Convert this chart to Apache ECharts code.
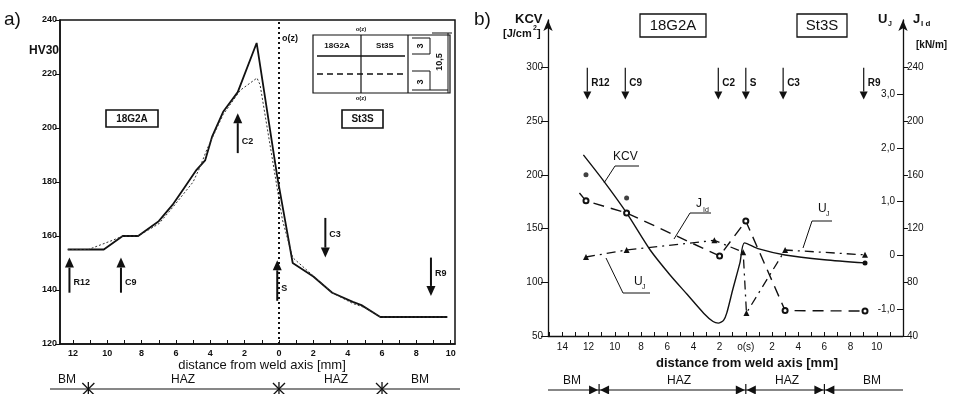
<!DOCTYPE html>
<html>
<head>
<meta charset="utf-8">
<script src="https://cdn.jsdelivr.net/npm/echarts@6/dist/echarts.min.js"></script>
<style>
html,body{margin:0;padding:0;background:#fff}
#chart{width:958px;height:394px}
</style>
</head>
<body>
<div id="chart"></div>
<script>
// ---- panel a) hardness HV30, distance from weld axis (minus = 18G2A side)
var hvSolid = [[-12.3,155],[-10.2,155],[-9.1,160],[-8.2,160],[-7.0,165.5],[-6.2,171.5],[-5.5,178],[-4.8,184.5],[-4.3,188],[-3.9,196.7],[-3.25,206],[-2.4,213.3],[-1.3,231.5],[-0.1,182],[0.8,150],[2.0,145],[3.1,139],[4.3,135.6],[4.8,134.4],[5.9,130],[9.8,130]];
var hvDotted = [[-12.3,155],[-11.1,155],[-9.65,158.5],[-9.1,160],[-8.2,160],[-7.0,164.5],[-6.2,170.5],[-5.0,180],[-4.6,185.5],[-4.2,192],[-3.25,205],[-2.25,214],[-1.28,218.5],[-1.1,216],[0.2,166],[0.8,152],[3.1,139],[4.3,135],[5.0,133.5],[5.9,130],[9.8,130]];
// specimen arrows: x, base, tip
var specA = [[-12.2,139,152],[-9.2,139,152],[-0.1,136,151],[-2.4,190.7,205.5],[2.7,166.7,152],[8.85,152,137.8]];
var specAnames = ['R12','C9','S','C2','C3','R9'];
var hvTicks = [120,140,160,180,200,220,240];
var distTicksA = [-12,-10,-8,-6,-4,-2,0,2,4,6,8,10];
var hazBoundsA = [-11.1,0,6];

// ---- panel b) KCV, J_Id, U_J
var kcvLine = [[-12.4,218.5],[-10.9,195],[-9.1,164.5],[-7.3,130],[-5.8,107],[-4.5,89],[-3.2,71],[-2.5,63.5],[-2.1,62],[-1.7,64.5],[-1.45,71.5],[-1.0,93],[-0.45,118],[-0.1,136.6],[1.0,131],[3.0,125.4],[6.0,121],[9.1,118]];
var kcvDots = [[-12.2,200],[-9.1,178.5]];
var jIdLine = [[-12.7,146.4],[-12.2,140.6],[-9.1,131.6],[-2.0,99.6],[0,125.6],[3.0,58.9],[9.1,58.6]];
var uJLine = [[-12.2,-0.03],[-9.1,0.1],[-2.4,0.28],[-0.2,0.06],[0.05,-1.07],[3.0,0.1],[9.1,0.01]];
var specB = [[-12.1,299.5,270],[-9.2,299.5,270],[-2.1,299.5,270],[0,299.5,270],[2.85,299.5,270],[9.0,299.5,270]];
var specBnames = ['R12','C9','C2','S','C3','R9'];
var kcvTicks = [50,100,150,200,250,300];
var jIdTicks = [40,80,120,160,200,240];
var uJTicks = [-1,0,1,2,3];
var distTicksB = [-14,-12,-10,-8,-6,-4,-2,0,2,4,6,8,10];
var hazBoundsB = [-11.2,0,6];

var INK = '#111';
var FONT = 'Liberation Sans, Arial, sans-serif';

function range(a, b) { var r = []; for (var i = a; i <= b; i++) r.push(i); return r; }

function arrowRenderer(names, opt) {
  return function (params, api) {
    var x = api.value(0);
    var p1 = api.coord([x, api.value(1)]);
    var p2 = api.coord([x, api.value(2)]);
    var dir = p2[1] > p1[1] ? 1 : -1;
    var hy = p2[1] - dir * opt.head;
    var ly = p1[1] + (p2[1] - p1[1]) * (dir > 0 ? opt.downFrac : opt.upFrac);
    return {
      type: 'group',
      children: [
        { type: 'line', shape: { x1: p1[0], y1: p1[1], x2: p2[0], y2: hy }, style: { stroke: INK, lineWidth: opt.width } },
        { type: 'polygon', shape: { points: [[p2[0] - opt.half, hy], [p2[0] + opt.half, hy], [p2[0], p2[1]]] }, style: { fill: INK } },
        { type: 'text', style: { text: names[params.dataIndex], x: p1[0] + 4, y: ly, fontSize: opt.font, fontWeight: 'bold', fontFamily: FONT, fill: INK, verticalAlign: 'middle' } }
      ]
    };
  };
}

var chart = echarts.init(document.getElementById('chart'));
chart.setOption({
  animation: false,
  backgroundColor: '#fff',
  textStyle: { fontFamily: FONT, color: INK },
  grid: [
    { left: 60, top: 20, width: 395, height: 324, show: true, borderColor: INK, borderWidth: 1.5, backgroundColor: 'transparent' },
    { left: 548, top: 20, width: 355, height: 316 }
  ],
  xAxis: [
    {
      gridIndex: 0, type: 'value', min: -12.75, max: 10.25,
      axisLine: { onZero: false, lineStyle: { color: INK, width: 1.5 } },
      axisTick: { customValues: range(-12, 10), inside: true, length: 4, lineStyle: { color: INK } },
      axisLabel: { customValues: distTicksA, formatter: function (v) { return Math.abs(v); }, fontSize: 9, fontWeight: 'bold', color: INK, margin: 5 },
      splitLine: { show: false }
    },
    {
      gridIndex: 1, type: 'value', min: -15.1, max: 12,
      axisLine: { onZero: false, lineStyle: { color: INK, width: 1.3 } },
      axisTick: { customValues: range(-15, 11), inside: true, length: 4, lineStyle: { color: INK } },
      axisLabel: { customValues: distTicksB, formatter: function (v) { return v === 0 ? 'o(s)' : Math.abs(v); }, fontSize: 10, color: INK, margin: 6 },
      splitLine: { show: false }
    }
  ],
  yAxis: [
    {
      gridIndex: 0, type: 'value', min: 120, max: 240,
      axisLine: { show: true, onZero: false, lineStyle: { color: INK, width: 1.5 } },
      axisTick: { customValues: hvTicks, length: 5, lineStyle: { color: INK } },
      axisLabel: { customValues: hvTicks, fontSize: 9, fontWeight: 'bold', color: INK, margin: 3 },
      splitLine: { show: false }
    },
    {
      gridIndex: 1, type: 'value', min: 50, max: 344,
      axisLine: { show: true, onZero: false, symbol: ['none', 'arrow'], symbolSize: [7, 11], lineStyle: { color: INK, width: 1.3 } },
      axisTick: { customValues: kcvTicks, length: 7, lineStyle: { color: INK } },
      axisLabel: { customValues: kcvTicks, fontSize: 10, color: INK, margin: 5 },
      splitLine: { show: false }
    },
    {
      gridIndex: 1, type: 'value', position: 'right', min: 40, max: 275.2,
      axisLine: { show: true, onZero: false, symbol: ['none', 'arrow'], symbolSize: [7, 11], lineStyle: { color: INK, width: 1.3 } },
      axisTick: { customValues: jIdTicks, length: 5, lineStyle: { color: INK } },
      axisLabel: { customValues: jIdTicks, fontSize: 10, color: INK, margin: 4 },
      splitLine: { show: false }
    },
    {
      gridIndex: 1, type: 'value', position: 'right', min: -1.5, max: 4.38,
      axisLine: { show: false, onZero: false },
      axisTick: { customValues: uJTicks, inside: true, length: 6, lineStyle: { color: INK } },
      axisLabel: { customValues: uJTicks, inside: true, fontSize: 10, color: INK, margin: 8,
        formatter: function (v) { return v === 0 ? '0' : v.toFixed(1).replace('.', ','); } },
      splitLine: { show: false }
    }
  ],
  series: [
    {
      type: 'line', xAxisIndex: 0, yAxisIndex: 0, data: hvSolid, symbol: 'none',
      lineStyle: { color: INK, width: 1.8 },
      markLine: { silent: true, symbol: 'none', label: { show: false },
        lineStyle: { color: INK, type: [2, 3], width: 2 }, data: [{ xAxis: 0 }] }
    },
    {
      type: 'line', xAxisIndex: 0, yAxisIndex: 0, data: hvDotted, symbol: 'none',
      lineStyle: { color: '#333', width: 1, type: [2, 2] }
    },
    {
      type: 'custom', xAxisIndex: 0, yAxisIndex: 0, data: specA,
      encode: { x: 0, y: [1, 2] },
      renderItem: arrowRenderer(specAnames, { head: 10, half: 4.5, width: 2, font: 9, upFrac: 0.3, downFrac: 0.42 })
    },
    {
      type: 'line', xAxisIndex: 1, yAxisIndex: 1, symbol: 'none', smooth: 0.25,
      data: kcvLine.map(function (p, i) { return i === kcvLine.length - 1 ? { value: p, symbol: 'circle', symbolSize: 5 } : p; }),
      itemStyle: { color: INK }, lineStyle: { color: INK, width: 1.4 },
      markLine: { silent: true, symbol: 'none', label: { show: false },
        lineStyle: { color: INK, type: [2, 3], width: 1.8 }, data: [[{ coord: [0, 46] }, { coord: [0, 268] }]] }
    },
    {
      type: 'scatter', xAxisIndex: 1, yAxisIndex: 1, data: kcvDots, symbol: 'circle', symbolSize: 5,
      itemStyle: { color: INK }
    },
    {
      type: 'line', xAxisIndex: 1, yAxisIndex: 2, symbol: 'emptyCircle', symbolSize: 5,
      data: jIdLine.map(function (p, i) { return i === 0 ? { value: p, symbol: 'none' } : p; }),
      itemStyle: { color: INK, borderWidth: 1.2 }, lineStyle: { color: INK, width: 1.4, type: [11, 7] }
    },
    {
      type: 'line', xAxisIndex: 1, yAxisIndex: 3, symbol: 'triangle', symbolSize: 6,
      data: uJLine, itemStyle: { color: INK }, lineStyle: { color: INK, width: 1.3, type: [9, 5, 2, 5] }
    },
    {
      type: 'custom', xAxisIndex: 1, yAxisIndex: 1, data: specB,
      encode: { x: 0, y: [1, 2] },
      renderItem: arrowRenderer(specBnames, { head: 8, half: 4, width: 1.2, font: 10, upFrac: 0.5, downFrac: 0.5 })
    }
  ]
});

// annotations (labels, boxes, zone bars)
function tx(text, x, y, size, opts) {
  opts = opts || {};
  return { type: 'text', x: x, y: y, rotation: opts.rot || 0, z: 10,
    style: { text: text, fontSize: size, fontWeight: opts.weight || 'normal', fontFamily: FONT, fill: INK,
      align: opts.align || 'left', verticalAlign: opts.va || 'top' } };
}
function ln(x1, y1, x2, y2, w, dash) {
  return { type: 'line', z: 10, shape: { x1: x1, y1: y1, x2: x2, y2: y2 }, style: { stroke: INK, lineWidth: w || 1, lineDash: dash || null } };
}
function pl(points, w) {
  return { type: 'polyline', z: 10, shape: { points: points }, style: { stroke: INK, lineWidth: w || 1, fill: null } };
}
function box(x, y, w, h, lw) {
  return { type: 'rect', z: 10, shape: { x: x, y: y, width: w, height: h }, style: { stroke: INK, lineWidth: lw || 1.3, fill: '#fff' } };
}

var g = [];
// panel a
g.push(tx('a)', 4, 10, 19));
g.push(tx('HV30', 29, 45, 12, { weight: 'bold' }));
g.push(box(106, 110, 52, 17, 1.6), tx('18G2A', 132, 119, 10, { weight: 'bold', align: 'center', va: 'middle' }));
g.push(box(342, 110, 41, 18, 1.6), tx('St3S', 362.5, 119.5, 10, { weight: 'bold', align: 'center', va: 'middle' }));
g.push(tx('o(z)', 282, 34, 9, { weight: 'bold' }));
// inset cross-section table
g.push(box(313, 35, 137, 58, 1.2));
g.push(ln(361, 35, 361, 93, 1.2), ln(408, 35, 408, 93, 1.2));
g.push(tx('18G2A', 337, 46, 8, { weight: 'bold', align: 'center', va: 'middle' }));
g.push(tx('St3S', 385, 46, 8, { weight: 'bold', align: 'center', va: 'middle' }));
g.push(ln(317, 56, 405, 56, 1.3), ln(317, 74, 405, 74, 1.6, [6, 4]));
g.push(tx('o(z)', 361, 29, 6, { weight: 'bold', align: 'center', va: 'middle' }));
g.push(tx('o(z)', 361, 98, 6, { weight: 'bold', align: 'center', va: 'middle' }));
g.push(tx('3', 421, 46, 9, { weight: 'bold', align: 'center', va: 'middle', rot: Math.PI / 2 }));
g.push(tx('3', 421, 82, 9, { weight: 'bold', align: 'center', va: 'middle', rot: Math.PI / 2 }));
g.push(tx('10,5', 440, 62, 9, { weight: 'bold', align: 'center', va: 'middle', rot: Math.PI / 2 }));
g.push(ln(412, 38, 430, 38, 1), ln(412, 54, 430, 54, 1), ln(412, 71, 430, 71, 1), ln(412, 90, 448, 90, 1));
g.push(ln(430, 38, 430, 54, 1), ln(430, 71, 430, 90, 1), ln(448, 33, 448, 93, 1), ln(432, 33, 452, 33, 1));
g.push(tx('distance from weld axis [mm]', 262, 365, 13, { align: 'center', va: 'middle' }));
g.push(ln(50, 389, 460, 389, 1.2));
g.push(tx('BM', 67, 380, 12, { align: 'center', va: 'middle' }));
g.push(tx('HAZ', 183, 380, 12, { align: 'center', va: 'middle' }));
g.push(tx('HAZ', 336, 380, 12, { align: 'center', va: 'middle' }));
g.push(tx('BM', 420, 380, 12, { align: 'center', va: 'middle' }));
hazBoundsA.forEach(function (v) {
  var X = chart.convertToPixel({ xAxisIndex: 0 }, v);
  g.push(ln(X - 6, 383, X + 6, 395, 1.3), ln(X - 6, 395, X + 6, 383, 1.3), ln(X, 382, X, 396, 1.3));
});

// panel b
g.push(tx('b)', 474, 10, 19));
g.push(tx('KCV', 515, 13, 13, { weight: 'bold' }));
g.push(tx('[J/cm', 503, 28, 11, { weight: 'bold' }), tx('2', 533, 25, 7, { weight: 'bold' }), tx(']', 537, 28, 11, { weight: 'bold' }));
g.push(box(640, 14, 66, 23, 1.3), tx('18G2A', 673, 26, 15, { align: 'center', va: 'middle' }));
g.push(box(797, 14, 50, 23, 1.3), tx('St3S', 822, 26, 15, { align: 'center', va: 'middle' }));
g.push(tx('U', 878, 13, 13, { weight: 'bold' }), tx('J', 888, 21, 7, { weight: 'bold' }));
g.push(tx('J', 913, 13, 13, { weight: 'bold' }), tx('I d', 921, 20, 8, { weight: 'bold' }));
g.push(tx('[kN/m]', 916, 40, 10, { weight: 'bold' }));
// curve labels with leaders
g.push(tx('KCV', 613, 151, 12), pl([[604, 183], [615, 166], [639, 166]], 1));
g.push(tx('J', 696, 198, 12), tx('Id', 703, 207, 7), pl([[674, 239], [690, 213], [711, 213]], 1));
g.push(tx('U', 818, 203, 12), tx('J', 826, 211, 7), pl([[803, 248], [812, 221], [832, 221]], 1));
g.push(tx('U', 634, 276, 12), tx('J', 642, 284, 7), pl([[606, 258], [623, 293], [650, 293]], 1));
g.push(tx('distance from weld axis [mm]', 747, 363, 13, { weight: 'bold', align: 'center', va: 'middle' }));
g.push(ln(548, 390, 903, 390, 1.2));
g.push(tx('BM', 572, 381, 12, { align: 'center', va: 'middle' }));
g.push(tx('HAZ', 679, 381, 12, { align: 'center', va: 'middle' }));
g.push(tx('HAZ', 787, 381, 12, { align: 'center', va: 'middle' }));
g.push(tx('BM', 872, 381, 12, { align: 'center', va: 'middle' }));
hazBoundsB.forEach(function (v) {
  var X = chart.convertToPixel({ xAxisIndex: 1 }, v);
  g.push({ type: 'polygon', z: 10, shape: { points: [[X - 10, 385.5], [X - 10, 394.5], [X - 1, 390]] }, style: { fill: INK } });
  g.push({ type: 'polygon', z: 10, shape: { points: [[X + 10, 385.5], [X + 10, 394.5], [X + 1, 390]] }, style: { fill: INK } });
  g.push(ln(X, 384, X, 396, 1.2));
});

chart.setOption({ graphic: g });
</script>
</body>
</html>
